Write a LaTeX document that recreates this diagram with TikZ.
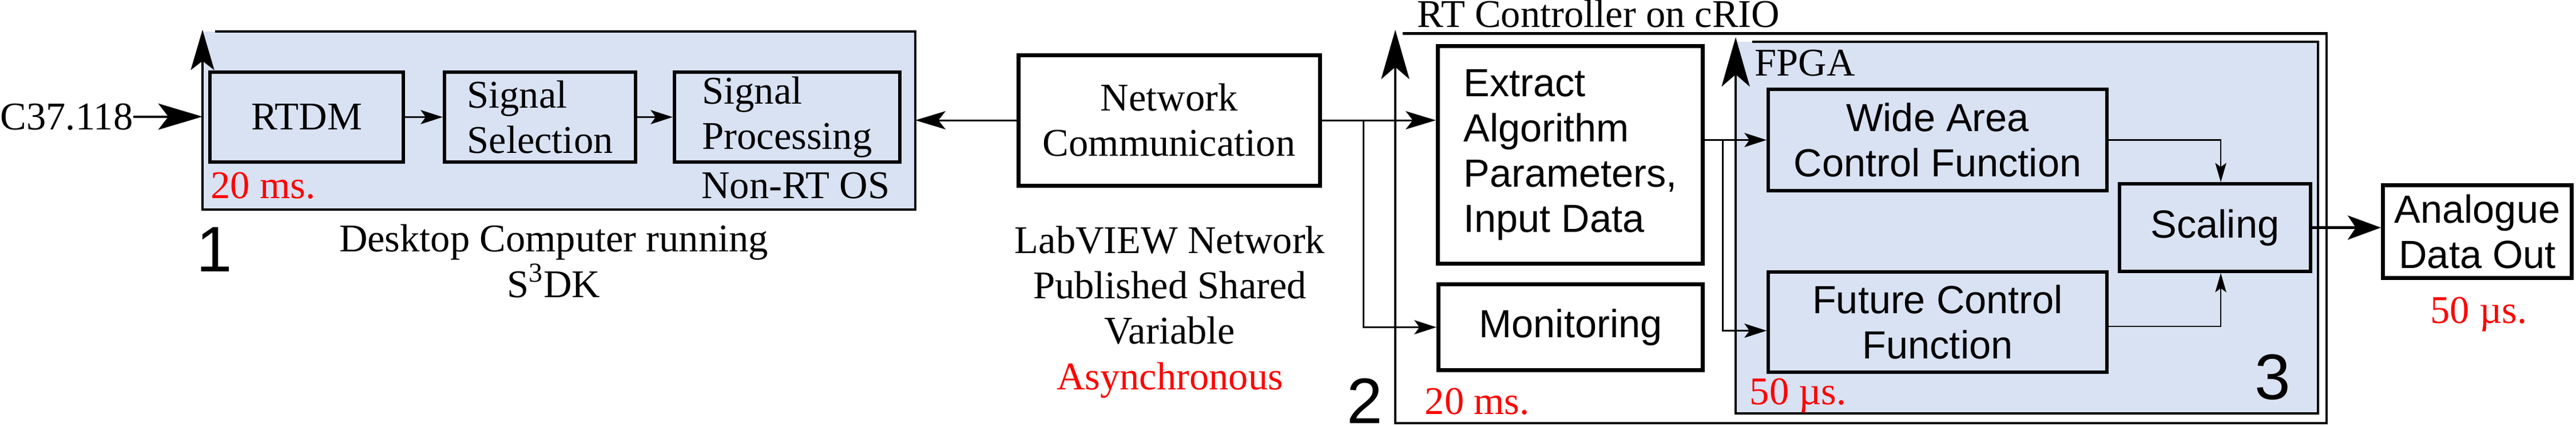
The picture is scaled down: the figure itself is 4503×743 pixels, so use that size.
\documentclass[tikz,border=0pt]{standalone}
\usepackage{fontspec}
\setmainfont{Liberation Serif}
\setsansfont{Liberation Sans}
\usetikzlibrary{arrows.meta}
\definecolor{fpgablue}{RGB}{217,226,243}
\newcommand\diagfont{\fontsize{19.5}{22.5}\selectfont}

\begin{document}
\begin{tikzpicture}[
    x=0.1mm, y=-0.1mm, font=\diagfont,
    area/.style={rectangle, inner sep=0pt, outer sep=0pt},
    block/.style={rectangle, draw, line width=1.7pt, fill=fpgablue, inner sep=0pt, align=left},
    wblock/.style={rectangle, draw, line width=2pt, fill=white, inner sep=0pt, align=center},
    sans/.style={font=\diagfont\sffamily},
    lbl/.style={inner sep=0pt},
    timing/.style={inner sep=0pt, text=red},
    num/.style={inner sep=0pt, font=\fontsize{32}{32}\selectfont\sffamily},
    frame/.style={line width=1.3pt},
    tip/.style={-{Stealth[length=11pt,width=7pt,inset=2.5pt]}, line width=0.85pt},
    midtip/.style={-{Stealth[length=15pt,width=9pt,inset=3.5pt]}, line width=0.85pt},
    bigtip/.style={-{Stealth[length=22pt,width=13pt,inset=5pt]}, line width=1.1pt},
    outtip/.style={-{Stealth[length=16.5pt,width=12pt,inset=4pt]}, line width=1.4pt},
    thintip/.style={-{Stealth[length=9.5pt,width=5.5pt,inset=2pt]}, line width=0.7pt},
    uptip/.style={-{Stealth[length=24.5pt,width=14pt,inset=6pt]}}
]
\useasboundingbox (0,0) rectangle (4503,743);

% Desktop computer
\node[area, fill=fpgablue, minimum width=124.6mm, minimum height=31.1mm] (pc) at (977,210.5) {};
\draw[frame, line width=1pt, -{Stealth[length=20pt,width=11.7pt,inset=4.5pt]}] ([xshift=2.2mm]pc.north west) -- (pc.north east) -- (pc.south east) -- (pc.south west) -- ([yshift=0.3mm]pc.north west);
\node[block, minimum width=33.8mm, minimum height=15.7mm] (rtdm) at (536,204.5) {RTDM};
\node[block, minimum width=33.4mm, minimum height=15.7mm] (sigsel) at (944,204.5) {Signal\\Selection};
\node[block, minimum width=39.4mm, minimum height=15.7mm] (sigproc) at (1376,204.5) {Signal\\Processing};
\node[timing, anchor=base west] (pctime) at (368,346) {20 ms.};
\node[lbl, anchor=base east] (pcos) at (1556,346) {Non-RT OS};
\node[num] (n1) at (375,436) {1};
\node[align=center] (pccap) at (968,456) {Desktop Computer running\\S\textsuperscript{3}DK};
\node[lbl, anchor=base west] (c37) at (0,226) {C37.118};

% Network
\node[wblock, minimum width=52.7mm, minimum height=22.8mm] (nc) at (2043.5,210) {Network\\Communication};
\node[align=center] (lvcap) at (2045,545) {LabVIEW Network\\Published Shared\\Variable\\\textcolor{red}{Asynchronous}};

% RT controller
\node[area, minimum width=162.8mm, minimum height=68.05mm] (rt) at (3253,398.75) {};
\draw[frame, uptip] ([xshift=1.3mm]rt.north west) -- (rt.north east) -- (rt.south east) -- (rt.south west) -- ([yshift=0.65mm]rt.north west);
\node[lbl, anchor=base west] (rtlabel) at (2477,47) {RT Controller on cRIO};
\node[wblock, sans, align=left, minimum width=46.3mm, minimum height=38mm] (ext) at (2745,270.5) {Extract\\Algorithm\\Parameters,\\Input Data};
\node[wblock, sans, minimum width=46.2mm, minimum height=15mm] (mon) at (2745.5,571.5) {Monitoring};
\node[num] (n2) at (2386,700) {2};
\node[timing, anchor=base west] (rttime) at (2490,723) {20 ms.};

% FPGA
\node[area, fill=fpgablue, minimum width=101.8mm, minimum height=64.9mm] (fpga) at (3543,397.5) {};
\draw[frame, uptip] ([xshift=2.9mm]fpga.north west) -- (fpga.north east) -- (fpga.south east) -- (fpga.south west) -- ([yshift=0.8mm]fpga.north west);
\node[lbl, anchor=base west] (fpgalabel) at (3067,132) {FPGA};
\node[block, sans, align=center, minimum width=59.2mm, minimum height=17.7mm] (wa) at (3387,244.5) {Wide Area\\Control Function};
\node[block, sans, align=center, minimum width=59.2mm, minimum height=17.5mm] (fc) at (3387,562.5) {Future Control\\Function};
\node[block, sans, minimum width=33.4mm, minimum height=15.3mm] (scal) at (3872,397.5) {Scaling};
\node[num] (n3) at (3973,659) {3};
\node[timing, anchor=base west] (fpgatime) at (3058,706) {50 µs.};

% Output
\node[wblock, sans, minimum width=33mm, minimum height=16.2mm] (ana) at (4330.5,404.5) {Analogue\\Data Out};
\node[timing, anchor=base] (anatime) at (4333,564) {50 µs.};

% Connections
\draw[bigtip] (c37) -- (c37 -| pc.west);
\draw[tip] (rtdm) -- (sigsel);
\draw[tip] (sigsel) -- (sigproc);
\draw[midtip] (nc.west) -- (nc.west -| pc.east);
\draw[midtip] (nc.east) -- (nc.east -| ext.west);
\draw[tip] ([xshift=7.3mm]nc.east) |- (mon.west);
\draw[tip] (wa.west -| ext.east) -- (wa.west);
\draw[tip] ([xshift=3.1mm]wa.west -| ext.east) |- ([yshift=-1.5mm]fc.west);
\draw[thintip] (wa.east) -| ([xshift=1mm]scal.north);
\draw[thintip] ([yshift=-0.75mm]fc.east) -| ([xshift=1mm]scal.south);
\draw[outtip] (scal.east) -- (scal.east -| ana.west);

\end{tikzpicture}
\end{document}
